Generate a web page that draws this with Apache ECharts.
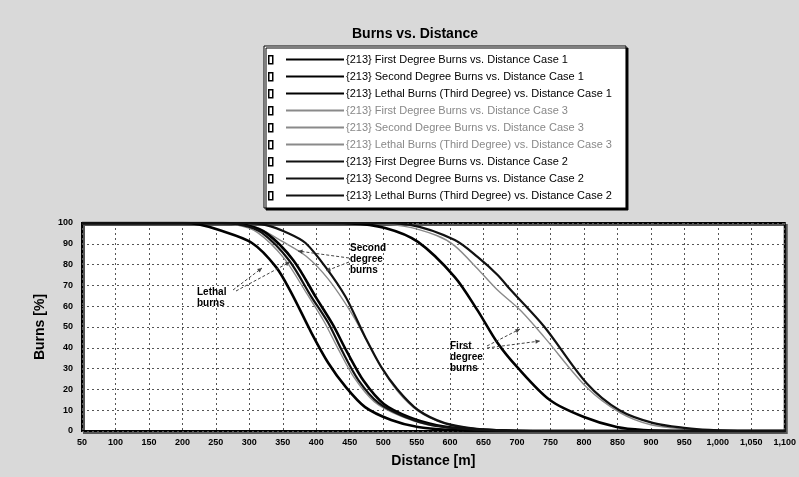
<!DOCTYPE html>
<html><head><meta charset="utf-8">
<script src="https://cdn.jsdelivr.net/npm/echarts@6/dist/echarts.min.js"></script>
<style>html,body{margin:0;padding:0;background:#d9d9d9}#c{width:799px;height:477px}</style>
</head><body><div id="c"></div>
<script>
// ---- data: [distance m, burns %] ----
const firstCase1 = [[50,100],[400,100],[450,99.8],[503,97.6],[552,90.9],[607,74],[641,58],[671,42.3],[700,30.8],[749,14.9],[800,6.7],[849,1.9],[889,0.5],[950,0],[1100,0]];
const secondCase1 = [[50,100],[260,100],[295,99],[326,95],[366,82],[400,64],[425,51],[446,38],[471,24],[501,13],[540,6.5],[580,2.8],[625,1],[670,0.3],[720,0],[1100,0]];
const lethalCase1 = [[50,100],[200,100],[225,99.3],[255,96.6],[304,90.4],[340,78.8],[363,66.3],[393,47.1],[418,32.7],[444,21.2],[473,11.5],[512,5.3],[552,1.9],[600,0.5],[650,0],[1100,0]];
const firstCase3 = [[50,100],[470,100],[530,98.5],[580,94],[607,89],[641,78],[670,68],[705,58],[741,45],[804,21],[853,9],[900,3],[950,1],[1000,0.3],[1050,0],[1100,0]];
const secondCase3 = [[50,100],[270,100],[310,98],[350,91],[385,84],[418,73],[452,57],[478,42],[502,28],[530,16],[560,8],[600,3],[650,0.8],[700,0],[1100,0]];
const lethalCase3 = [[50,100],[240,100],[282,99],[312,95.5],[352,83],[386,66],[411,53],[432,40],[457,25.5],[487,14],[527,7],[566,3],[615,1],[660,0.3],[700,0],[1100,0]];
const firstCase2 = [[50,100],[480,100],[542,99],[607,91.8],[641,83.7],[671,75],[690,68],[741,50],[804,23],[853,10],[904,3.8],[953,1.4],[987,0.5],[1030,0],[1100,0]];
const secondCase2 = [[50,100],[290,100],[325,99],[359,95],[384,90.4],[414,78.8],[444,64.4],[473,45.2],[497,30.8],[522,19.7],[552,10.1],[592,3.8],[640,1],[690,0.2],[740,0],[1100,0]];
const lethalCase2 = [[50,100],[250,100],[290,99],[319,95.2],[359,82.2],[393,64.4],[418,51.9],[438,38.9],[463,24.5],[493,13.5],[533,6.7],[571,2.9],[620,1],[660,0.3],[700,0],[1100,0]];

const seriesNames = [
  '{213} First Degree Burns vs. Distance Case 1',
  '{213} Second Degree Burns vs. Distance Case 1',
  '{213} Lethal Burns (Third Degree) vs. Distance Case 1',
  '{213} First Degree Burns vs. Distance Case 3',
  '{213} Second Degree Burns vs. Distance Case 3',
  '{213} Lethal Burns (Third Degree) vs. Distance Case 3',
  '{213} First Degree Burns vs. Distance Case 2',
  '{213} Second Degree Burns vs. Distance Case 2',
  '{213} Lethal Burns (Third Degree) vs. Distance Case 2'
];
const seriesData = [firstCase1, secondCase1, lethalCase1, firstCase3, secondCase3, lethalCase3, firstCase2, secondCase2, lethalCase2];
const xMin = 50, xMax = 1100, xStep = 50;
const yMin = 0, yMax = 100, yStep = 10;

const styles = [
  {c:'#000', w:2.6}, {c:'#000', w:2.6}, {c:'#000', w:2.6},
  {c:'#8a8a8a', w:1.4}, {c:'#8a8a8a', w:1.4}, {c:'#8a8a8a', w:1.4},
  {c:'#111', w:2.2}, {c:'#111', w:2.2}, {c:'#111', w:2.2}
];

const chart = echarts.init(document.getElementById('c'), null, {renderer:'canvas'});

const series = seriesData.map((d,i)=>({
  name: seriesNames[i], type:'line', data:d, symbol:'none', smooth:0.3,
  lineStyle:{color:styles[i].c, width:styles[i].w}, itemStyle:{color:styles[i].c},
  z: i>=3 && i<6 ? 3 : 4, animation:false
}));

// legend checkbox glyphs and annotation graphics (decorations only)
const graphics = [];
for (let i=0;i<9;i++){
  graphics.push({type:'rect', left:268, top:55 + i*17, shape:{width:4,height:8}, style:{fill:'#fff', stroke:'#000', lineWidth:1.5}, z:100});
}
function arrow(x1,y1,x2,y2){
  const a = Math.atan2(y2-y1,x2-x1), L=5, s=0.45;
  graphics.push({type:'line', shape:{x1,y1,x2,y2}, style:{stroke:'#444', lineWidth:1, lineDash:[3,2]}, z:50});
  graphics.push({type:'polygon', shape:{points:[[x2,y2],[x2-L*Math.cos(a-s),y2-L*Math.sin(a-s)],[x2-L*Math.cos(a+s),y2-L*Math.sin(a+s)]]}, style:{fill:'#444'}, z:50});
}
const annStyle = {fontSize:10, fontWeight:'bold', fontFamily:'Liberation Sans, Arial', fill:'#000', lineHeight:11};
graphics.push({type:'text', left:197, top:287, style:Object.assign({text:'Lethal\nburns'}, annStyle), z:60});
graphics.push({type:'text', left:350, top:243, style:Object.assign({text:'Second\ndegree\nburns'}, annStyle), z:60});
graphics.push({type:'text', left:450, top:341, style:Object.assign({text:'First\ndegree\nburns'}, annStyle), z:60});
arrow(233,290,262,268); arrow(236,291,290,262);
arrow(349,258,298,251); arrow(349,262,326,271);
arrow(487,346,520,329); arrow(487,348,540,341);

chart.setOption({
  backgroundColor:'#d9d9d9',
  animation:false,
  title:{text:'Burns vs. Distance', left:410, top:22, textAlign:'center',
    textStyle:{fontSize:14, fontWeight:'bold', fontFamily:'Liberation Sans, Arial', color:'#000'}},
  legend:{
    orient:'vertical', left:264, top:46, padding:[8,14,7,21],
    itemWidth:58, itemHeight:10, itemGap:6,
    backgroundColor:'#fff', borderColor:'#000', borderWidth:1,
    shadowColor:'#000', shadowOffsetX:2, shadowOffsetY:2, shadowBlur:0,
    itemStyle:{opacity:0},
    data: seriesNames.map((n,i)=>({name:n, textStyle:{color: (i>=3&&i<6)?'#888':'#000'}})),
    textStyle:{fontSize:11, lineHeight:10, fontFamily:'Liberation Sans, Arial', padding:[0,0,0,-3]},
    selectedMode:false
  },
  grid:{left:82, right:10, top:223, bottom:46, show:true, backgroundColor:'#fff', borderColor:'#000', borderWidth:2,
    shadowColor:'#555', shadowOffsetX:2, shadowOffsetY:2, shadowBlur:0},
  xAxis:{type:'value', min:xMin, max:xMax, interval:xStep,
    name:'Distance [m]', nameLocation:'middle', nameGap:23,
    nameTextStyle:{fontSize:14, fontWeight:'bold', fontFamily:'Liberation Sans, Arial', color:'#000'},
    axisLine:{show:false}, axisTick:{show:false},
    axisLabel:{fontSize:9, fontFamily:'Liberation Sans, Arial', fontWeight:'bold', color:'#000', margin:7,
      formatter:v=>v.toLocaleString('en-US')},
    splitLine:{show:true, lineStyle:{color:'#555', type:[2,3], width:1}}},
  yAxis:{type:'value', min:yMin, max:yMax, interval:yStep,
    name:'Burns [%]', nameLocation:'middle', nameGap:32, nameRotate:90,
    nameTextStyle:{fontSize:14, fontWeight:'bold', fontFamily:'Liberation Sans, Arial', color:'#000'},
    axisLine:{show:false}, axisTick:{show:false},
    axisLabel:{fontSize:9, fontFamily:'Liberation Sans, Arial', fontWeight:'bold', color:'#000', margin:9},
    splitLine:{show:true, lineStyle:{color:'#555', type:[2,3], width:1}}},
  graphic:graphics,
  series:series
});
</script></body></html>
